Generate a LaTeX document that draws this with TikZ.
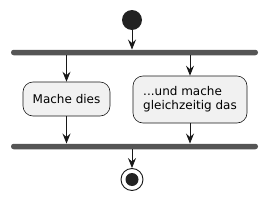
\documentclass[tikz,border=0pt]{standalone}
\usepackage{fontspec}
\setmainfont{DejaVu Sans}
\usetikzlibrary{arrows.meta}
\definecolor{boxfill}{HTML}{F1F1F1}
\definecolor{lineclr}{HTML}{181818}
\definecolor{barclr}{HTML}{555555}
\definecolor{dotclr}{HTML}{222222}
\tikzset{
  actbox/.style={draw=lineclr, line width=0.6pt, fill=boxfill, rounded corners=10pt, inner sep=0pt, font=\fontsize{12}{14}\selectfont, text=black},
  bar/.style={fill=barclr, draw=none, rounded corners=2.7pt, inner sep=0pt, minimum width=247pt, minimum height=5.5pt},
  flow/.style={draw=lineclr, line width=0.9pt, -{Stealth[length=10pt,width=8pt,inset=3.5pt]}},
}
\begin{document}
\begin{tikzpicture}[x=1pt,y=-1pt]
\useasboundingbox (0,0) rectangle (268,201);
\node[circle, fill=dotclr, minimum size=20pt, inner sep=0pt] (start) at (132,20) {};
\node[bar] (fork) at (134.5,52.5) {};
\node[actbox, minimum width=87pt, minimum height=34pt] (left) at (66.5,99) {Mache dies};
\node[actbox, minimum width=114pt, minimum height=47pt, align=left] (right) at (190,99.5) {...und mache\\gleichzeitig das};
\node[bar] (join) at (134.5,146.5) {};
\node[circle, draw=lineclr, line width=0.9pt, fill=white, minimum size=22pt, inner sep=0pt] (stop) at (132,179.5) {};
\node[circle, fill=dotclr, minimum size=13pt, inner sep=0pt] (stopdot) at (stop.center) {};
\draw[flow] (start.south) -- (start.south |- fork.north);
\draw[flow] (fork.south -| left.north) -- (left.north);
\draw[flow] (fork.south -| right.north) -- (right.north);
\draw[flow] (left.south) -- (left.south |- join.north);
\draw[flow] (right.south) -- (right.south |- join.north);
\draw[flow] (join.south -| stop.north) -- (stop.north);
\end{tikzpicture}
\end{document}
